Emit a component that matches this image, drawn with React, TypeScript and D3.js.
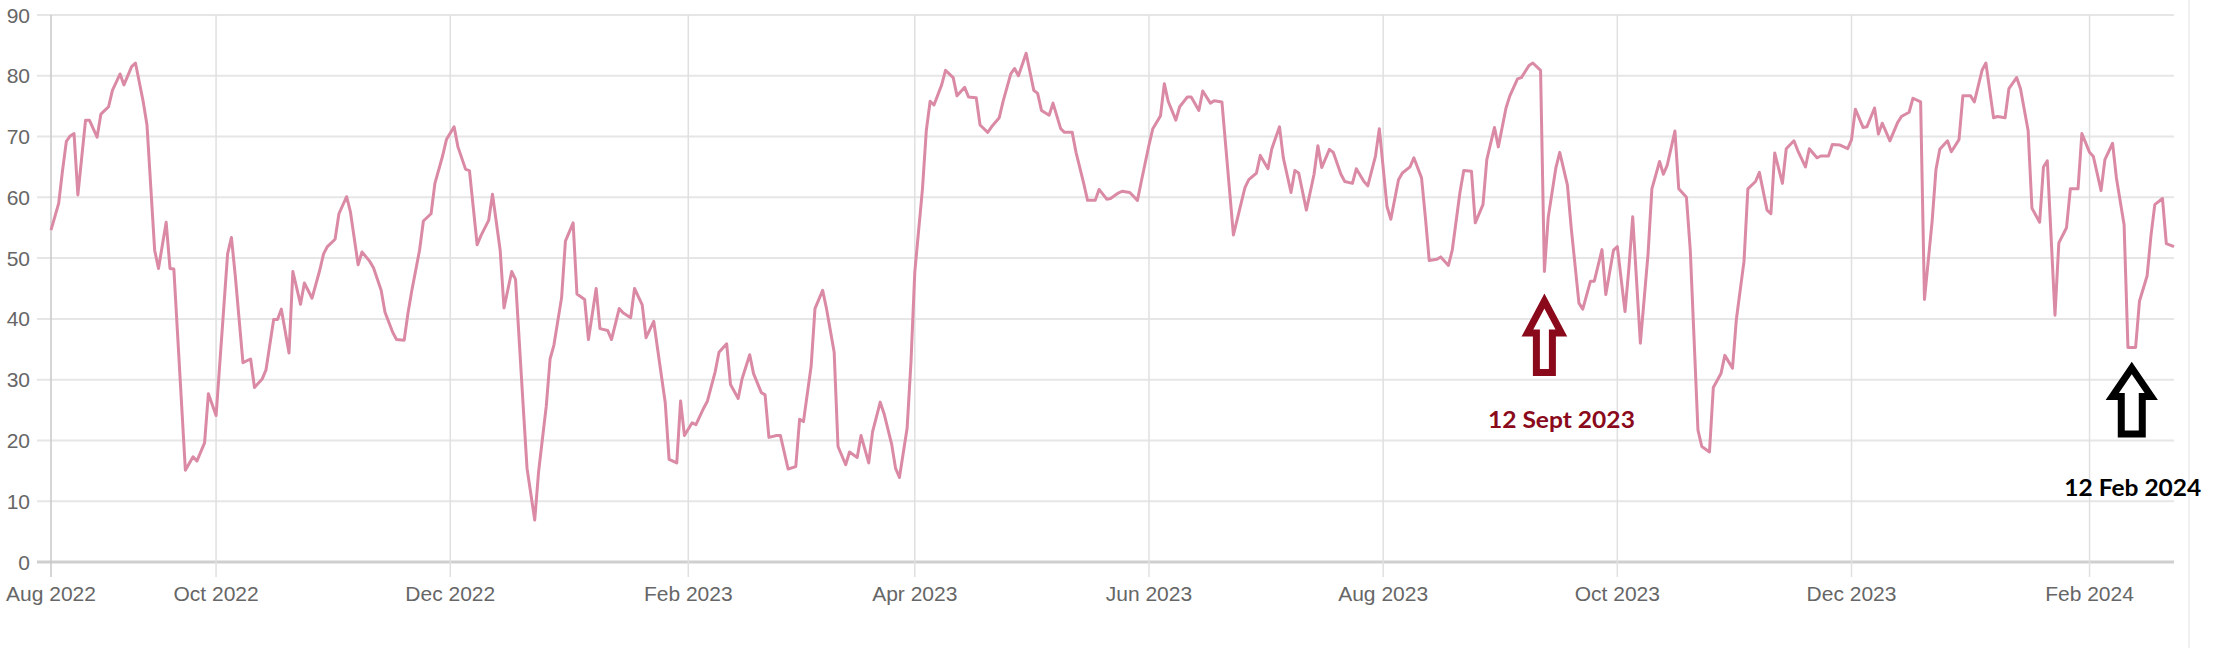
import React from "react";
import * as d3 from "d3";

// ---- data ----
const START_DATE = "2022-08-19"; // first data point (day offset 0)

const dayOffsets: number[] = [
  0, 2, 3, 4, 5, 6, 7, 9, 10, 12, 13, 14, 15, 16, 18, 19, 21, 22, 24, 25, 27, 28, 30, 31, 32, 35, 37, 38, 40, 41, 43,
  46, 47, 48, 50, 52, 53, 55, 56, 58, 59, 60, 62, 63, 65, 66, 68, 70, 71, 72, 74, 75, 77, 78, 80, 81, 83, 84, 86, 87,
  89, 90, 92,
  93, 94, 96, 97, 99, 100, 102, 103, 105, 106, 108, 109, 111, 112, 114, 115, 117, 118, 120, 121, 123, 124, 126, 127,
  129, 130, 131, 133, 134, 136, 137, 139, 140, 142, 143, 145, 146, 148, 149, 151, 152, 154, 155, 157, 158, 160, 161,
  163, 164, 165, 167, 168, 170, 171, 173, 174, 176, 177, 179, 180, 182, 183, 185, 186, 187,
  189, 190, 192, 194, 195, 196, 198, 199, 201, 202, 204, 205, 207, 208, 210, 211, 213, 214, 216, 217, 219, 220, 221,
  223, 224, 225, 227, 228, 229, 230, 232, 233, 235, 236, 238, 239, 241, 242, 244, 245, 247, 248, 250, 251, 252, 254,
  256, 257, 258, 260, 261, 263, 264, 266, 267, 269, 270, 272, 273, 275, 276, 278, 279, 281,
  283, 284, 286, 287, 289, 290, 291, 293, 294, 296, 297, 299, 300, 302, 303, 305, 308, 309, 311, 312, 314, 315, 317,
  318, 320, 321, 323, 324, 325, 327, 329, 330, 331, 333, 334, 336, 337, 339, 340, 342, 343, 345, 346, 348, 349, 351,
  352, 354, 355, 357, 358, 359, 361, 362, 364, 365, 367, 368, 370, 371, 373,
  374, 376, 377, 379, 380, 382, 383, 385, 386, 388, 389, 390, 392, 393, 395, 396, 398, 399, 401, 402, 404, 405, 407,
  408, 410, 411, 412, 414, 416, 417, 419, 420, 421, 423, 424, 426, 427, 429, 430, 432, 433, 435, 436, 438, 439, 441,
  442, 444, 445, 447, 448, 449, 451, 452, 454, 455, 457, 458, 460, 461, 463, 464, 466, 468, 469,
  470, 472, 473, 475, 476, 477, 479, 481, 482, 484, 485, 487, 488, 490, 491, 492, 494, 495, 497, 498, 500, 501, 503,
  504, 506, 507, 509, 510, 512, 513, 515, 516, 518, 519, 520, 522, 523, 525, 526, 528, 529, 531, 532, 534, 535, 537,
  538, 540, 541, 543, 544, 546, 547, 548, 550, 551, 553,
];

const values: number[] = [
  54.6, 59, 64.4, 69.2, 70.1, 70.5, 60.4, 72.7, 72.7, 69.9, 73.7, 74.3, 74.9, 77.6, 80.3, 78.5, 81.5, 82.1, 75.8, 71.9,
  51.3, 48.3, 55.9, 48.3, 48.2, 15.1, 17.3, 16.6, 19.6, 27.7, 24.1, 50.7, 53.4, 47.1, 32.8, 33.4, 28.7, 30.1, 31.6,
  39.9, 39.9, 41.6, 34.4, 47.8, 42.4, 45.9, 43.4, 48.0, 50.7, 51.9, 53.1, 57.3, 60.1, 57.6, 48.9, 51.0, 49.5, 48.4,
  44.7, 41.1, 37.8, 36.6, 36.5,
  41.0, 44.7, 51.3, 56.1, 57.3, 62.3, 66.8, 69.5, 71.6, 68.3, 64.6, 64.4, 52.2, 53.7, 56.2, 60.5, 51.3, 41.8, 47.8,
  46.5, 25.6, 15.4, 6.9, 14.8, 25.6, 33.4, 35.7, 43.5, 52.8, 55.8, 44.1, 43.2, 36.6, 45.0, 38.4, 38.1, 36.6, 41.7,
  41.0, 40.2, 45.0, 42.3, 36.9, 39.6, 35.1, 26.2, 16.9, 16.3, 26.5, 20.8, 22.9, 22.6, 25.3, 26.5, 31.3, 34.5, 35.9,
  29.2, 26.9, 30.1, 34.1, 31.0, 27.9, 27.5, 20.5,
  20.8, 20.8, 15.3, 15.7, 23.5, 23.1, 32.2, 41.7, 44.7, 41.7, 34.5, 19.0, 16.0, 18.1, 17.2, 20.8, 16.3, 21.4, 26.3,
  24.4, 19.3, 15.4, 13.9, 22.0, 32.8, 47.7, 61.4, 71.0, 75.8, 75.2, 78.5, 80.9, 79.7, 76.7, 78.1, 76.5, 76.4, 71.9,
  70.7, 71.6, 73.1, 75.8, 80.3, 81.2, 80.0, 83.7, 77.6, 77.1, 74.3, 73.5, 75.5, 71.3, 70.7, 70.7, 67.4, 62.3, 59.5,
  59.5, 61.3, 59.7, 59.8, 60.7, 61.0, 60.8,
  59.5, 62.6, 68.6, 71.3, 73.4, 78.7, 75.8, 72.7, 74.9, 76.5, 76.5, 74.3, 77.5, 75.5, 75.9, 75.7, 53.8, 56.4, 61.6,
  62.9, 64.0, 66.9, 64.7, 68.0, 71.6, 66.5, 60.8, 64.4, 64.0, 57.9, 63.8, 68.5, 64.9, 67.9, 67.4, 63.8, 62.6, 62.3,
  64.7, 62.6, 61.9, 66.8, 71.3, 58.5, 56.4, 62.9, 64.0, 65.0, 66.5, 63.2, 56.7, 49.6, 49.8, 50.2, 48.8, 51.3, 60.8,
  64.4, 64.3, 55.8, 58.8,
  66.2, 71.5, 68.3, 74.7, 76.7, 79.5, 79.7, 81.7, 82.1, 80.9, 47.8, 56.7, 64.9, 67.4, 62.0, 54.9, 42.6, 41.6, 46.2,
  46.2, 51.4, 44.0, 51.3, 51.9, 41.2, 48.3, 56.8, 36.0, 50.7, 61.4, 65.9, 63.8, 65.3, 70.9, 61.4, 60.0, 51.3, 21.7,
  19.0, 18.1, 28.7, 31.0, 34.0, 31.9, 39.9, 49.5, 61.4, 62.6, 64.1, 57.9, 57.3, 67.3, 62.3, 68.0, 69.3, 67.7, 65.0,
  68.0, 66.5, 66.8, 66.8, 68.7, 68.6, 68.0, 69.5,
  74.5, 71.5, 71.6, 74.7, 70.4, 72.2, 69.3, 72.3, 73.3, 74.0, 76.3, 75.7, 43.2, 56.1, 64.6, 67.9, 69.3, 67.5, 69.5,
  76.7, 76.7, 75.7, 80.9, 82.1, 73.1, 73.3, 73.1, 77.9, 79.7, 77.9, 71.0, 58.2, 55.9, 65.0, 66.0, 40.6, 52.5, 55.0,
  61.4, 61.4, 70.5, 67.4, 66.7, 61.1, 66.2, 68.9, 63.2, 55.5, 35.3, 35.3, 42.9, 47.1, 53.7, 58.8, 59.8, 52.4, 51.9,
];

const xTickDates: string[] = [
  "2022-08-19", "2022-10-01", "2022-12-01", "2023-02-01", "2023-04-01",
  "2023-06-01", "2023-08-01", "2023-10-01", "2023-12-01", "2024-02-01",
];
const xTickLabels: string[] = [
  "Aug 2022", "Oct 2022", "Dec 2022", "Feb 2023", "Apr 2023",
  "Jun 2023", "Aug 2023", "Oct 2023", "Dec 2023", "Feb 2024",
];
const yTicks: number[] = [0, 10, 20, 30, 40, 50, 60, 70, 80, 90];

const annotationDates: string[] = ["2023-09-12", "2024-02-12"];
const annotationLabels: string[] = ["12 Sept 2023", "12 Feb 2024"];

// ---- layout ----
const W = 2226;
const H = 648;
const M = { left: 51, right: 2174, top: 15, bottom: 562 };
const DAY = 86400000;
const parse = (s: string) => {
  const [yy, mm, dd] = s.split("-").map(Number);
  return new Date(Date.UTC(yy, mm - 1, dd));
};

export default function App() {
  const start = parse(START_DATE).getTime();
  const data = dayOffsets.map((d, i) => ({ date: new Date(start + d * DAY), value: values[i] }));

  const x = d3
    .scaleUtc()
    .domain([data[0].date, data[data.length - 1].date])
    .range([M.left, M.right]);
  const y = d3.scaleLinear().domain([0, 90]).range([M.bottom, M.top]);

  const line = d3
    .line<{ date: Date; value: number }>()
    .x((d) => x(d.date))
    .y((d) => y(d.value));

  const axisFont = "'Liberation Sans', Arial, Helvetica, sans-serif";
  const annFont = "Lato, 'Open Sans', sans-serif";

  const arrowPath = (cx: number, tip: number, wingY: number, wingHalf: number, shaftHalf: number, bottom: number) =>
    `M${cx},${tip}L${cx + wingHalf},${wingY}L${cx + shaftHalf},${wingY}L${cx + shaftHalf},${bottom}` +
    `L${cx - shaftHalf},${bottom}L${cx - shaftHalf},${wingY}L${cx - wingHalf},${wingY}Z`;

  const a1x = x(parse(annotationDates[0]));
  const a2x = x(parse(annotationDates[1]));

  return (
    <svg
      width={W}
      height={H}
      style={{ position: "absolute", left: 0, top: 0, background: "#fff" }}
    >
      <rect x={0} y={0} width={W} height={H} fill="#fff" />
      <line x1={2189} x2={2189} y1={0} y2={H} stroke="#ececec" strokeWidth={1.5} />

      {yTicks.map((t) => (
        <line
          key={"hy" + t}
          x1={M.left - 14}
          x2={M.right}
          y1={y(t)}
          y2={y(t)}
          stroke={t === 0 ? "#cfcfcf" : "#e6e6e6"}
          strokeWidth={t === 0 ? 3 : 2}
        />
      ))}
      {xTickDates.map((d, i) => (
        <line
          key={"vx" + d}
          x1={x(parse(d))}
          x2={x(parse(d))}
          y1={M.top}
          y2={M.bottom + 15}
          stroke={i === 0 ? "#c8c8c8" : "#e0e0e0"}
          strokeWidth={1.5}
        />
      ))}

      {yTicks.map((t) => (
        <text
          key={"ty" + t}
          x={30}
          y={y(t)}
          dy="0.36em"
          textAnchor="end"
          fontFamily={axisFont}
          fontSize={21}
          fill="#666"
        >
          {t}
        </text>
      ))}
      {xTickDates.map((d, i) => (
        <text
          key={"tx" + d}
          x={x(parse(d))}
          y={601}
          textAnchor="middle"
          fontFamily={axisFont}
          fontSize={21}
          fill="#666"
        >
          {xTickLabels[i]}
        </text>
      ))}

      <path
        d={line(data) || ""}
        fill="none"
        stroke="#da8aa5"
        strokeWidth={3}
        strokeLinejoin="round"
      />

      <path
        d={arrowPath(a1x, 301, 333, 17, 8, 372.5)}
        fill="#fff"
        stroke="#8a0a1c"
        strokeWidth={7}
        strokeLinejoin="miter"
      />
      <text
        x={a1x + 17}
        y={428}
        textAnchor="middle"
        fontFamily={annFont}
        fontWeight={700}
        fontSize={22}
        fill="#8a0a1c"
        textLength={147}
        lengthAdjust="spacingAndGlyphs"
      >
        {annotationLabels[0]}
      </text>
      <path
        d={arrowPath(a2x, 368, 396.5, 19.5, 10.5, 434)}
        fill="#fff"
        stroke="#000"
        strokeWidth={7}
        strokeLinejoin="miter"
      />
      <text
        x={a2x + 1}
        y={496}
        textAnchor="middle"
        fontFamily={annFont}
        fontWeight={700}
        fontSize={23}
        fill="#000"
        textLength={137}
        lengthAdjust="spacingAndGlyphs"
      >
        {annotationLabels[1]}
      </text>
    </svg>
  );
}
